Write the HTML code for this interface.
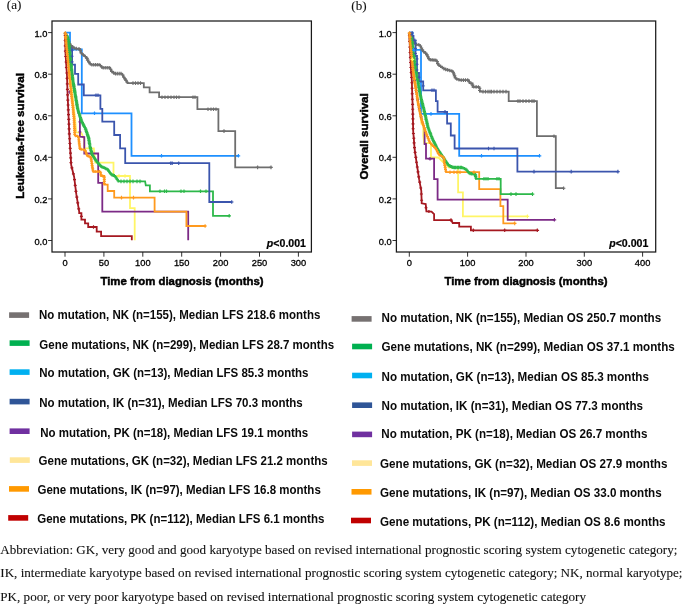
<!DOCTYPE html>
<html lang="en">
<head>
<meta charset="utf-8">
<title>Survival curves</title>
<style>
html,body{margin:0;padding:0;background:#fff;}
body{width:685px;height:604px;overflow:hidden;position:relative;}
svg{position:absolute;left:0;top:0;display:block;}
.tk{font-family:"Liberation Sans",Arial,sans-serif;font-size:9.3px;fill:#000;stroke:#000;stroke-width:0.3px;}
.ax{font-family:"Liberation Sans",Arial,sans-serif;font-size:11.4px;font-weight:bold;fill:#000;stroke:#000;stroke-width:0.45px;}
.pv{font-family:"Liberation Sans",Arial,sans-serif;font-size:10.6px;font-weight:bold;fill:#000;stroke:#000;stroke-width:0.2px;}
.lg{font-family:"Liberation Sans",Arial,sans-serif;font-weight:bold;fill:#0a0a0a;}
.sf{font-family:"Liberation Serif","Times New Roman",serif;font-size:13.1px;fill:#111;stroke:#111;stroke-width:0.1px;}
</style>
</head>
<body>
<svg width="685" height="604" viewBox="0 0 685 604">
<rect width="685" height="604" fill="#fff"/>
<text x="6.8" y="9.4" class="sf">(a)</text>
<text x="351.3" y="9.5" class="sf">(b)</text>
<g id="chart-a">
<rect x="52" y="21" width="259.4" height="231" fill="none" stroke="#1a1a1a" stroke-width="1.25"/>
<path d="M48.1 32.6H52M48.1 74.2H52M48.1 115.8H52M48.1 157.3H52M48.1 198.9H52M48.1 240.5H52M65.0 252V256.7M103.9 252V256.7M142.8 252V256.7M181.7 252V256.7M220.6 252V256.7M259.5 252V256.7M298.4 252V256.7" stroke="#1a1a1a" stroke-width="0.9" fill="none"/>
<text transform="translate(47.3 36.7) scale(1 1.05)" text-anchor="end" class="tk">1.0</text>
<text transform="translate(47.3 78.3) scale(1 1.05)" text-anchor="end" class="tk">0.8</text>
<text transform="translate(47.3 119.9) scale(1 1.05)" text-anchor="end" class="tk">0.6</text>
<text transform="translate(47.3 161.4) scale(1 1.05)" text-anchor="end" class="tk">0.4</text>
<text transform="translate(47.3 203.0) scale(1 1.05)" text-anchor="end" class="tk">0.2</text>
<text transform="translate(47.3 244.6) scale(1 1.05)" text-anchor="end" class="tk">0.0</text>
<text transform="translate(65.0 266.2) scale(1 1.03)" text-anchor="middle" class="tk">0</text>
<text transform="translate(103.9 266.2) scale(1 1.03)" text-anchor="middle" class="tk">50</text>
<text transform="translate(142.8 266.2) scale(1 1.03)" text-anchor="middle" class="tk">100</text>
<text transform="translate(181.7 266.2) scale(1 1.03)" text-anchor="middle" class="tk">150</text>
<text transform="translate(220.6 266.2) scale(1 1.03)" text-anchor="middle" class="tk">200</text>
<text transform="translate(259.5 266.2) scale(1 1.03)" text-anchor="middle" class="tk">250</text>
<text transform="translate(298.4 266.2) scale(1 1.03)" text-anchor="middle" class="tk">300</text>
<text x="182.0" y="285.2" text-anchor="middle" class="ax">Time from diagnosis (months)</text>
<text transform="translate(24.4 135.9) rotate(-90)" text-anchor="middle" class="ax" style="font-size:11.6px">Leukemia-free survival</text>
<text x="306.0" y="247.2" text-anchor="end" class="pv"><tspan font-style="italic">p</tspan>&lt;0.001</text>
<path d="M65 32.6 L67 45 L69 60 L71 80 L73 100 L74.8 116.3 L76.3 132.3 L81.4 133 L84.3 139.6 L84.3 148.4 L93.8 148.4 L95.3 162.7 L113.5 162.7 L113.5 176 L130 176 L130 208.1 L134.7 208.1 L134.7 240.2" fill="none" stroke="#fff566" stroke-width="1.8" stroke-linejoin="miter"/>
<path d="M65 32.6 L66.2 37 L68.5 42 L69.9 53.8 L71.4 68.4 L72.8 80.1 L75 93 L77.7 109 L79.9 117 L79.9 136.7 L84.3 137 L84.3 153.5 L98.2 153.5 L98.2 182.8 L102.3 182.8 L102.3 211.7 L188.2 211.7 L188.2 240.2" fill="none" stroke="#7c2a86" stroke-width="1.8" stroke-linejoin="miter"/>
<path d="M65 32.6 L65.5 53.8 L67 75.7 L67.7 97.6 L68.2 107.5 L69 126.5 L69.7 141.1 L71.2 165 L74.1 176.7 L76.3 194.2 L79.2 211.7 L79.2 213.2 L81.4 213.2 L81.4 219.7 L85 219.7 L85 223.4 L88.2 223.4 L88.2 227 L96.7 227 L96.7 231.7 L101.1 231.7 L101.1 236.1 L131.8 236.1 L131.8 240.2" fill="none" stroke="#a51820" stroke-width="1.8" stroke-linejoin="miter"/>
<path d="M65 32.6 L65.5 33.4 L66.3 45 L67.7 58.2 L69.2 74.2 L71.3 93.5 L72.6 104.6 L74.1 119.2 L74.8 135.3 L78.5 136.7 L79.9 149.1 L85 149.9 L87.2 155.7 L90.9 157.2 L93.1 171.6 L100.4 171.6 L101.1 176 L104.3 176 L104.3 184.7 L107.7 184.7 L107.7 191 L114.2 191 L114.2 197.6 L154.6 197.6 L154.6 211.7 L186.4 211.7 L186.4 226 L205.7 226" fill="none" stroke="#ff9a1e" stroke-width="1.8" stroke-linejoin="miter"/>
<path d="M65 32.6 L70 32.6 L70 49.5 L81.8 49.5 L81.8 113.3 L131.5 113.3 L131.5 155.8 L239 155.8" fill="none" stroke="#1e90ff" stroke-width="1.8" stroke-linejoin="miter"/>
<path d="M65 32.6 L66.5 36 L68 41 L70 44.5 L72 46.5 L75 48.5 L80.3 49 L80.3 52 L82.3 54 L84 55.5 L86.7 57.5 L88 61 L91 64.7 L100 64.8 L102.2 67.7 L110.2 67.7 L110.9 70.7 L114.6 73.6 L121.9 73.6 L123.4 76.5 L125.5 79.5 L127.7 83.1 L143.8 83.1 L143.8 87.4 L149.6 87.4 L149.6 92.3 L159.1 92.3 L159.1 97.2 L197.4 97.2 L197.4 109.2 L218.4 109.2 L218.4 131.1 L235.2 131.1 L235.2 167.4 L271.6 167.4" fill="none" stroke="#6e6e6e" stroke-width="1.8" stroke-linejoin="miter"/>
<path d="M67.2 35.5 L68.6 42 L69.9 53.8 L71.4 68.4 L72.8 80.1 L75 93 L77.7 109 L81.4 120.7 L85.8 129.4 L88.7 138.2 L90.1 146.9 L92.3 155 L96.7 161.5 L101.1 166.5 L107.7 169.4 L111.3 174.5 L115 176 L118.6 181.4 L145.1 181.4 L145.8 185.4 L149.9 185.4 L149.9 191.3 L213 191.3 L213 215.8 L229.8 215.8" fill="none" stroke="#2db84a" stroke-width="1.8" stroke-linejoin="miter"/>
<path d="M68.6 44 L68.6 47.6 L72.1 47.6 L72.1 64.7 L75 64.7 L75 73.8 L78.2 73.8 L78.2 84.5 L83.8 84.5 L83.8 95.3 L100.4 95.3 L100.4 108.8 L102.3 108.8 L102.3 121.7 L114.2 121.7 L114.2 135 L120.1 135 L120.1 148.4 L125.2 148.4 L125.2 163.2 L209.3 163.2 L209.3 202 L232.3 202" fill="none" stroke="#3b55ad" stroke-width="1.8" stroke-linejoin="miter"/>
<path d="M162.0 95.4v3.6M165.0 95.4v3.6M168.0 95.4v3.6M171.0 95.4v3.6M174.0 95.4v3.6M176.5 95.4v3.6M179.0 95.4v3.6M193.0 95.4v3.6M195.0 95.4v3.6M208.0 107.4v3.6M211.0 107.4v3.6M213.5 107.4v3.6M216.0 107.4v3.6M224.0 129.3v3.6M257.6 165.6v3.6M133.0 81.3v3.6M135.5 81.3v3.6M138.0 81.3v3.6M140.5 81.3v3.6M271.0 165.6v3.6M160.2 97.2h3.6M163.2 97.2h3.6M166.2 97.2h3.6M169.2 97.2h3.6M172.2 97.2h3.6M174.7 97.2h3.6M177.2 97.2h3.6M191.2 97.2h3.6M193.2 97.2h3.6M206.2 109.2h3.6M209.2 109.2h3.6M211.7 109.2h3.6M214.2 109.2h3.6M222.2 131.1h3.6M255.8 167.4h3.6M131.2 83.1h3.6M133.7 83.1h3.6M136.2 83.1h3.6M138.7 83.1h3.6M269.2 167.4h3.6M65.4 31.7v3.6M66.1 33.4v3.6M66.9 35.5v3.6M67.6 38.0v3.6M68.5 40.1v3.6M69.5 41.8v3.6M71.0 43.7v3.6M72.8 45.2v3.6M74.2 46.2v3.6M76.3 46.8v3.6M79.0 47.1v3.6M80.3 48.7v3.6M81.3 51.2v3.6M83.2 53.0v3.6M85.3 54.7v3.6M87.0 56.6v3.6M87.7 58.3v3.6M88.8 60.1v3.6M90.2 62.0v3.6M91.9 62.9v3.6M93.7 62.9v3.6M95.5 63.0v3.6M97.3 63.0v3.6M99.1 63.0v3.6M100.5 63.7v3.6M101.7 65.2v3.6M103.2 65.9v3.6M105.2 65.9v3.6M107.2 65.9v3.6M109.2 65.9v3.6M110.6 67.4v3.6M111.8 69.6v3.6M113.7 71.1v3.6M115.5 71.8v3.6M117.3 71.8v3.6M119.2 71.8v3.6M121.0 71.8v3.6M122.7 73.2v3.6M123.9 75.5v3.6M125.0 77.0v3.6M126.0 78.6v3.6M127.2 80.4v3.6M63.6 33.5h3.6M64.3 35.1h3.6M65.1 37.2h3.6M65.8 39.8h3.6M66.7 41.9h3.6M67.7 43.6h3.6M69.2 45.5h3.6M71.0 47.0h3.6M72.5 48.0h3.6M74.5 48.6h3.6M77.2 48.9h3.6M78.5 50.5h3.6M79.5 53.0h3.6M81.4 54.8h3.6M83.5 56.5h3.6M85.2 58.4h3.6M85.9 60.1h3.6M87.0 61.9h3.6M88.5 63.8h3.6M90.1 64.7h3.6M91.9 64.7h3.6M93.7 64.8h3.6M95.5 64.8h3.6M97.3 64.8h3.6M98.8 65.5h3.6M99.9 67.0h3.6M101.4 67.7h3.6M103.4 67.7h3.6M105.4 67.7h3.6M107.4 67.7h3.6M108.8 69.2h3.6M110.0 71.4h3.6M111.9 72.9h3.6M113.7 73.6h3.6M115.5 73.6h3.6M117.4 73.6h3.6M119.2 73.6h3.6M120.9 75.0h3.6M122.1 77.2h3.6M123.2 78.8h3.6M124.2 80.4h3.6M125.4 82.2h3.6" fill="none" stroke="#6e6e6e" stroke-width="1.15"/>
<path d="M69.6 90.2v3.6M67.8 92.0h3.6M69.2 46.5v2.8M70.7 59.7v2.8M72.1 72.8v2.8M73.9 85.1v2.8M75.7 95.6v2.8M77.0 103.6v2.8M78.8 111.6v2.8M79.9 120.5v2.8M79.9 130.4v2.8M67.8 47.9h2.8M69.2 61.1h2.8M70.7 74.2h2.8M72.5 86.5h2.8M74.3 97.0h2.8M75.6 105.0h2.8M77.4 113.0h2.8M78.5 121.9h2.8M78.5 131.8h2.8" fill="none" stroke="#7c2a86" stroke-width="1.15"/>
<path d="M160.0 189.5v3.6M164.5 189.5v3.6M166.5 189.5v3.6M181.0 189.5v3.6M184.0 189.5v3.6M200.5 189.5v3.6M206.0 189.5v3.6M121.0 179.6v3.6M124.0 179.6v3.6M127.0 179.6v3.6M130.0 179.6v3.6M133.0 179.6v3.6M137.0 179.6v3.6M140.0 179.6v3.6M229.2 214.0v3.6M158.2 191.3h3.6M162.7 191.3h3.6M164.7 191.3h3.6M179.2 191.3h3.6M182.2 191.3h3.6M198.7 191.3h3.6M204.2 191.3h3.6M119.2 181.4h3.6M122.2 181.4h3.6M125.2 181.4h3.6M128.2 181.4h3.6M131.2 181.4h3.6M135.2 181.4h3.6M138.2 181.4h3.6M227.4 215.8h3.6M67.3 34.4v3.4M67.6 35.8v3.4M67.9 37.0v3.4M68.2 38.3v3.4M68.5 39.6v3.4M68.7 41.0v3.4M68.8 42.3v3.4M69.0 43.6v3.4M69.1 44.9v3.4M69.2 46.2v3.4M69.4 47.5v3.4M69.5 48.8v3.4M69.7 50.1v3.4M69.8 51.4v3.4M70.0 52.8v3.4M70.1 54.1v3.4M70.2 55.4v3.4M70.4 56.7v3.4M70.5 58.1v3.4M70.7 59.4v3.4M70.8 60.7v3.4M70.9 62.1v3.4M71.1 63.4v3.4M71.2 64.7v3.4M71.3 66.0v3.4M71.5 67.4v3.4M71.6 68.7v3.4M71.8 70.0v3.4M71.9 71.2v3.4M72.1 72.5v3.4M72.3 73.8v3.4M72.4 75.1v3.4M72.6 76.4v3.4M72.7 77.7v3.4M72.9 79.0v3.4M73.1 80.3v3.4M73.3 81.6v3.4M73.6 82.9v3.4M73.8 84.2v3.4M74.0 85.5v3.4M74.2 86.8v3.4M74.5 88.1v3.4M74.7 89.4v3.4M74.9 90.7v3.4M75.1 92.0v3.4M75.3 93.3v3.4M75.6 94.6v3.4M75.8 96.0v3.4M76.0 97.3v3.4M76.2 98.6v3.4M76.5 100.0v3.4M76.7 101.3v3.4M76.9 102.6v3.4M77.1 104.0v3.4M77.4 105.3v3.4M77.6 106.6v3.4M77.9 108.0v3.4M78.3 109.2v3.4M78.7 110.5v3.4M79.1 111.8v3.4M79.6 113.1v3.4M80.0 114.5v3.4M80.4 115.8v3.4M80.8 117.0v3.4M81.2 118.3v3.4M81.7 119.6v3.4M82.3 120.9v3.4M83.0 122.1v3.4M83.6 123.4v3.4M84.2 124.6v3.4M84.9 125.8v3.4M85.5 127.1v3.4M86.0 128.3v3.4M86.4 129.6v3.4M86.8 130.8v3.4M87.2 132.1v3.4M87.7 133.4v3.4M88.1 134.6v3.4M88.5 135.9v3.4M88.8 137.2v3.4M89.0 138.7v3.4M89.3 140.1v3.4M89.5 141.6v3.4M89.8 143.0v3.4M90.0 144.5v3.4M90.3 145.9v3.4M90.6 147.2v3.4M91.0 148.6v3.4M91.4 149.9v3.4M91.8 151.3v3.4M92.1 152.6v3.4M92.7 153.8v3.4M93.4 154.9v3.4M94.1 156.0v3.4M94.9 157.1v3.4M95.6 158.2v3.4M96.3 159.3v3.4M97.1 160.3v3.4M98.0 161.3v3.4M98.9 162.3v3.4M99.8 163.3v3.4M100.7 164.3v3.4M101.8 165.1v3.4M103.1 165.7v3.4M104.4 166.2v3.4M105.7 166.8v3.4M107.0 167.4v3.4M108.2 168.3v3.4M109.0 169.6v3.4M110.0 170.9v3.4M110.8 172.2v3.4M111.9 173.1v3.4M113.2 173.6v3.4M114.4 174.1v3.4M115.5 175.0v3.4M116.3 176.3v3.4M117.2 177.7v3.4M118.1 179.0v3.4M65.6 36.1h3.4M65.9 37.5h3.4M66.2 38.8h3.4M66.5 40.0h3.4M66.8 41.4h3.4M67.0 42.7h3.4M67.1 44.0h3.4M67.3 45.3h3.4M67.4 46.6h3.4M67.5 47.9h3.4M67.7 49.2h3.4M67.8 50.5h3.4M68.0 51.8h3.4M68.1 53.1h3.4M68.3 54.5h3.4M68.4 55.8h3.4M68.5 57.1h3.4M68.7 58.4h3.4M68.8 59.8h3.4M69.0 61.1h3.4M69.1 62.4h3.4M69.2 63.8h3.4M69.4 65.1h3.4M69.5 66.4h3.4M69.6 67.7h3.4M69.8 69.1h3.4M69.9 70.4h3.4M70.1 71.7h3.4M70.2 73.0h3.4M70.4 74.2h3.4M70.6 75.5h3.4M70.7 76.8h3.4M70.9 78.1h3.4M71.0 79.4h3.4M71.2 80.7h3.4M71.4 82.0h3.4M71.6 83.3h3.4M71.9 84.6h3.4M72.1 85.9h3.4M72.3 87.2h3.4M72.5 88.5h3.4M72.8 89.8h3.4M73.0 91.1h3.4M73.2 92.4h3.4M73.4 93.7h3.4M73.6 95.0h3.4M73.9 96.3h3.4M74.1 97.7h3.4M74.3 99.0h3.4M74.5 100.3h3.4M74.8 101.7h3.4M75.0 103.0h3.4M75.2 104.3h3.4M75.4 105.7h3.4M75.7 107.0h3.4M75.9 108.3h3.4M76.2 109.7h3.4M76.6 111.0h3.4M77.0 112.2h3.4M77.4 113.5h3.4M77.9 114.8h3.4M78.3 116.2h3.4M78.7 117.5h3.4M79.1 118.8h3.4M79.5 120.0h3.4M80.0 121.3h3.4M80.6 122.6h3.4M81.3 123.8h3.4M81.9 125.1h3.4M82.5 126.3h3.4M83.2 127.5h3.4M83.8 128.8h3.4M84.3 130.0h3.4M84.7 131.3h3.4M85.1 132.5h3.4M85.5 133.8h3.4M86.0 135.1h3.4M86.4 136.3h3.4M86.8 137.6h3.4M87.1 138.9h3.4M87.3 140.4h3.4M87.6 141.8h3.4M87.8 143.3h3.4M88.0 144.7h3.4M88.3 146.2h3.4M88.6 147.6h3.4M88.9 148.9h3.4M89.3 150.3h3.4M89.7 151.6h3.4M90.0 153.0h3.4M90.4 154.3h3.4M91.0 155.5h3.4M91.7 156.6h3.4M92.4 157.7h3.4M93.2 158.8h3.4M93.9 159.9h3.4M94.6 161.0h3.4M95.4 162.0h3.4M96.3 163.0h3.4M97.2 164.0h3.4M98.1 165.0h3.4M99.0 166.0h3.4M100.1 166.8h3.4M101.4 167.4h3.4M102.7 167.9h3.4M104.0 168.5h3.4M105.3 169.1h3.4M106.5 170.0h3.4M107.3 171.3h3.4M108.2 172.6h3.4M109.1 173.9h3.4M110.2 174.8h3.4M111.5 175.2h3.4M112.7 175.8h3.4M113.8 176.7h3.4M114.6 178.0h3.4M115.5 179.4h3.4M116.4 180.7h3.4" fill="none" stroke="#2db84a" stroke-width="1.15"/>
<path d="M94.5 111.5v3.6M161.5 154.0v3.6M238.4 154.0v3.6M92.7 113.3h3.6M159.7 155.8h3.6M236.6 155.8h3.6" fill="none" stroke="#1e90ff" stroke-width="1.15"/>
<path d="M96.0 93.5v3.6M98.0 93.5v3.6M170.7 161.4v3.6M172.2 161.4v3.6M178.7 161.4v3.6M231.7 200.2v3.6M94.2 95.3h3.6M96.2 95.3h3.6M168.9 163.2h3.6M170.4 163.2h3.6M176.9 163.2h3.6M229.9 202.0h3.6M72.1 49.1v2.8M72.1 54.8v2.8M72.1 60.5v2.8M70.7 50.5h2.8M70.7 56.2h2.8M70.7 61.9h2.8" fill="none" stroke="#3b55ad" stroke-width="1.15"/>
<path d="M93.5 225.2v3.6M91.7 227.0h3.6M65.1 33.8v3M65.2 39.0v3M65.3 44.3v3M65.4 49.6v3M65.7 55.0v3M66.1 60.5v3M66.4 66.0v3M66.8 71.5v3M67.1 76.9v3M67.3 82.4v3M67.4 87.9v3M67.6 93.4v3M67.8 98.6v3M68.1 103.5v3M68.3 108.4v3M68.5 113.1v3M68.7 117.9v3M68.9 122.6v3M69.1 127.4v3M69.3 132.3v3M69.6 137.2v3M69.9 142.0v3M70.2 146.8v3M70.5 151.6v3M70.8 156.3v3M71.0 161.1v3M71.9 166.4v3M73.4 172.3v3M74.5 178.1v3M75.2 183.9v3M75.9 189.8v3M76.8 195.6v3M77.8 201.4v3M78.7 207.3v3M81.4 214.9v3M63.6 35.2h3M63.7 40.5h3M63.8 45.8h3M63.9 51.1h3M64.2 56.5h3M64.6 62.0h3M64.9 67.5h3M65.3 73.0h3M65.6 78.4h3M65.8 83.9h3M65.9 89.4h3M66.1 94.9h3M66.3 100.1h3M66.6 105.0h3M66.8 109.9h3M67.0 114.6h3M67.2 119.4h3M67.4 124.1h3M67.6 128.9h3M67.8 133.8h3M68.1 138.7h3M68.4 143.5h3M68.7 148.3h3M69.0 153.1h3M69.2 157.8h3M69.5 162.6h3M70.4 167.9h3M71.9 173.8h3M73.0 179.6h3M73.7 185.4h3M74.4 191.3h3M75.3 197.1h3M76.2 202.9h3M77.2 208.8h3M79.9 216.4h3" fill="none" stroke="#a51820" stroke-width="1.15"/>
<path d="M121.5 195.8v3.6M133.5 195.8v3.6M65.3 31.2v3.6M65.7 35.0v3.6M205.1 224.2v3.6M119.7 197.6h3.6M131.7 197.6h3.6M63.5 33.0h3.6M63.9 36.8h3.6M203.3 226.0h3.6M65.6 32.9v3M65.7 34.8v3M65.8 36.7v3M66.0 38.7v3M66.1 40.6v3M66.2 42.5v3M66.4 44.4v3M66.6 46.3v3M66.8 48.2v3M67.0 50.1v3M67.2 52.0v3M67.4 53.9v3M67.6 55.8v3M67.8 57.7v3M68.0 59.7v3M68.2 61.7v3M68.4 63.7v3M68.5 65.7v3M68.7 67.7v3M68.9 69.7v3M69.1 71.7v3M69.3 73.7v3M69.5 75.6v3M69.7 77.5v3M69.9 79.5v3M70.1 81.4v3M70.4 83.3v3M70.6 85.2v3M70.8 87.2v3M71.0 89.1v3M71.2 91.0v3M71.4 92.9v3M71.6 94.8v3M71.8 96.6v3M72.1 98.5v3M72.3 100.3v3M72.5 102.2v3M72.7 104.0v3M72.9 105.8v3M73.1 107.7v3M73.3 109.5v3M73.4 111.3v3M73.6 113.1v3M73.8 115.0v3M74.0 116.8v3M74.1 118.7v3M74.2 120.7v3M74.3 122.7v3M74.4 124.7v3M74.5 126.8v3M74.6 128.8v3M74.7 130.8v3M74.8 132.8v3M75.7 134.2v3M77.6 134.8v3M78.6 136.2v3M78.8 138.3v3M79.1 140.4v3M79.3 142.4v3M79.6 144.5v3M79.8 146.6v3M81.2 147.8v3M83.7 148.2v3M85.4 149.4v3M86.1 151.3v3M86.8 153.2v3M88.1 154.6v3M90.0 155.3v3M91.0 156.6v3M91.3 158.4v3M91.6 160.2v3M91.9 162.0v3M92.1 163.8v3M92.4 165.6v3M92.7 167.4v3M93.0 169.2v3M94.0 170.1v3M95.8 170.1v3M97.7 170.1v3M99.5 170.1v3M100.6 171.2v3M100.9 173.4v3M102.7 174.5v3M104.3 175.6v3M104.3 177.8v3M104.3 179.9v3M104.3 182.1v3M64.1 34.4h3M64.2 36.3h3M64.3 38.2h3M64.5 40.2h3M64.6 42.1h3M64.7 44.0h3M64.9 45.9h3M65.1 47.8h3M65.3 49.7h3M65.5 51.6h3M65.7 53.5h3M65.9 55.4h3M66.1 57.3h3M66.3 59.2h3M66.5 61.2h3M66.7 63.2h3M66.9 65.2h3M67.0 67.2h3M67.2 69.2h3M67.4 71.2h3M67.6 73.2h3M67.8 75.2h3M68.0 77.1h3M68.2 79.0h3M68.4 81.0h3M68.6 82.9h3M68.9 84.8h3M69.1 86.7h3M69.3 88.7h3M69.5 90.6h3M69.7 92.5h3M69.9 94.4h3M70.1 96.3h3M70.3 98.1h3M70.6 100.0h3M70.8 101.8h3M71.0 103.7h3M71.2 105.5h3M71.4 107.3h3M71.6 109.2h3M71.8 111.0h3M71.9 112.8h3M72.1 114.6h3M72.3 116.5h3M72.5 118.3h3M72.6 120.2h3M72.7 122.2h3M72.8 124.2h3M72.9 126.2h3M73.0 128.3h3M73.1 130.3h3M73.2 132.3h3M73.3 134.3h3M74.2 135.7h3M76.1 136.3h3M77.1 137.7h3M77.3 139.8h3M77.6 141.9h3M77.8 143.9h3M78.1 146.0h3M78.3 148.1h3M79.7 149.3h3M82.2 149.7h3M83.9 150.9h3M84.6 152.8h3M85.3 154.7h3M86.6 156.1h3M88.5 156.8h3M89.5 158.1h3M89.8 159.9h3M90.1 161.7h3M90.4 163.5h3M90.6 165.3h3M90.9 167.1h3M91.2 168.9h3M91.5 170.7h3M92.5 171.6h3M94.3 171.6h3M96.2 171.6h3M98.0 171.6h3M99.1 172.7h3M99.4 174.9h3M101.2 176.0h3M102.8 177.1h3M102.8 179.3h3M102.8 181.4h3M102.8 183.6h3" fill="none" stroke="#ff9a1e" stroke-width="1.15"/>
<path d="M119.0 174.2v3.6M125.0 174.2v3.6M117.2 176.0h3.6M123.2 176.0h3.6" fill="none" stroke="#fff566" stroke-width="1.15"/>
</g>
<g id="chart-b">
<rect x="396.4" y="21" width="259.30000000000007" height="231" fill="none" stroke="#1a1a1a" stroke-width="1.25"/>
<path d="M392.5 32.6H396.4M392.5 74.2H396.4M392.5 115.8H396.4M392.5 157.3H396.4M392.5 198.9H396.4M392.5 240.5H396.4M409.3 252V256.7M467.6 252V256.7M526.0 252V256.7M584.3 252V256.7M642.6 252V256.7" stroke="#1a1a1a" stroke-width="0.9" fill="none"/>
<text transform="translate(391.7 36.7) scale(1 1.05)" text-anchor="end" class="tk">1.0</text>
<text transform="translate(391.7 78.3) scale(1 1.05)" text-anchor="end" class="tk">0.8</text>
<text transform="translate(391.7 119.9) scale(1 1.05)" text-anchor="end" class="tk">0.6</text>
<text transform="translate(391.7 161.4) scale(1 1.05)" text-anchor="end" class="tk">0.4</text>
<text transform="translate(391.7 203.0) scale(1 1.05)" text-anchor="end" class="tk">0.2</text>
<text transform="translate(391.7 244.6) scale(1 1.05)" text-anchor="end" class="tk">0.0</text>
<text transform="translate(409.3 266.2) scale(1 1.03)" text-anchor="middle" class="tk">0</text>
<text transform="translate(467.6 266.2) scale(1 1.03)" text-anchor="middle" class="tk">100</text>
<text transform="translate(526.0 266.2) scale(1 1.03)" text-anchor="middle" class="tk">200</text>
<text transform="translate(584.3 266.2) scale(1 1.03)" text-anchor="middle" class="tk">300</text>
<text transform="translate(642.6 266.2) scale(1 1.03)" text-anchor="middle" class="tk">400</text>
<text x="526.0" y="285.2" text-anchor="middle" class="ax">Time from diagnosis (months)</text>
<text transform="translate(368.0 136.4) rotate(-90)" text-anchor="middle" class="ax" style="font-size:11.6px">Overall survival</text>
<text x="648.4" y="247.2" text-anchor="end" class="pv"><tspan font-style="italic">p</tspan>&lt;0.001</text>
<path d="M409.3 32.6 L411 45 L413 60 L415 80 L418 100 L421.5 124 L423.3 125.5 L423.3 136 L424.2 143.1 L431 143.1 L431 157.5 L438.5 157.5 L441 160 L449 167.5 L458.1 167.5 L458.1 192.3 L462.9 192.3 L462.9 216.4 L528 216.4" fill="none" stroke="#fff566" stroke-width="1.8" stroke-linejoin="miter"/>
<path d="M409.3 32.6 L410.5 45 L412 60 L413.5 75 L415.4 85.8 L418.4 104.8 L422 120.9 L424.6 129 L424.6 144 L426 144 L426 158.6 L434.1 158.6 L434.1 179.2 L437.6 179.2 L437.6 199.6 L507.7 199.6 L507.7 219.8 L555 219.8" fill="none" stroke="#7c2a86" stroke-width="1.8" stroke-linejoin="miter"/>
<path d="M409.3 32.6 L410 50 L411 70 L411.8 80 L412.5 101.9 L413.2 131.1 L414.7 150 L416.9 164.6 L419.1 179.2 L421.3 190.9 L421.7 203.3 L425.7 204 L426.4 211.3 L431.5 211.6 L434.1 214.2 L434.1 220.1 L451.2 220.1 L452.7 223 L459.2 223 L459.2 226.6 L470.9 226.6 L470.9 230.3 L537.9 230.3" fill="none" stroke="#a51820" stroke-width="1.8" stroke-linejoin="miter"/>
<path d="M409.3 32.6 L410.5 45 L412 60 L413.5 75 L415.4 85.8 L418.4 104.8 L422 120.9 L426.4 134 L430 142.8 L435.9 148.6 L438.8 154.5 L443.9 157.4 L444.6 164.6 L446.1 172.2 L479.2 172.2 L479.2 189.1 L500.4 189.1 L500.4 206.2 L503.3 206.2 L503.3 223.4 L515.3 223.4" fill="none" stroke="#ff9a1e" stroke-width="1.8" stroke-linejoin="miter"/>
<path d="M409.3 32.6 L412.6 32.6 L412.6 49.8 L421 49.8 L421 113.9 L459.2 113.9 L459.2 155.8 L540.1 155.8" fill="none" stroke="#1e90ff" stroke-width="1.8" stroke-linejoin="miter"/>
<path d="M409.3 32.6 L411 37 L413 41 L415.5 44.3 L419.9 45 L422.8 50.9 L426.5 53.8 L429.4 59.6 L436.7 60.4 L438.2 64.7 L444.7 69.1 L452.8 71.3 L455.7 78.6 L460.1 80.1 L468.8 80.1 L469.6 83.2 L472.6 83.4 L472.6 86.8 L479.5 87.1 L479.9 91.6 L508.7 91.6 L508.7 101.1 L536.9 101.1 L536.9 136.2 L555.8 136.2 L555.8 188.2 L564.2 188.2" fill="none" stroke="#6e6e6e" stroke-width="1.8" stroke-linejoin="miter"/>
<path d="M411.2 36.5 L411.8 39 L413 50 L415 65 L417.6 80 L420.5 96 L424.2 110.7 L427.8 126.7 L432.2 138.4 L437.3 148.6 L443.2 157.4 L448.6 165.4 L453.4 167.5 L462.2 167.5 L466.5 169.7 L469.5 173.4 L475.3 174.1 L476 178.8 L500.7 178.8 L500.7 194.1 L533.1 194.1" fill="none" stroke="#2db84a" stroke-width="1.8" stroke-linejoin="miter"/>
<path d="M409.3 32.6 L411.9 32.6 L411.9 36 L413.5 36 L413.5 40.7 L415.5 40.7 L415.5 56 L417 56 L417 72.8 L419 72.8 L419 81.5 L423.2 81.5 L423.2 90.3 L435.9 90.3 L435.9 101.2 L437.6 101.2 L437.6 111.8 L447.1 111.8 L447.1 123.5 L450.8 123.5 L450.8 135.5 L454.6 135.5 L454.6 148.5 L517.4 148.5 L517.4 171.6 L618.5 171.6" fill="none" stroke="#3b55ad" stroke-width="1.8" stroke-linejoin="miter"/>
<path d="M483.0 89.8v3.6M485.5 89.8v3.6M488.0 89.8v3.6M490.0 89.8v3.6M491.5 89.8v3.6M494.0 89.8v3.6M497.0 89.8v3.6M500.0 89.8v3.6M503.0 89.8v3.6M506.0 89.8v3.6M518.0 99.3v3.6M520.0 99.3v3.6M523.0 99.3v3.6M526.0 99.3v3.6M529.0 99.3v3.6M532.0 99.3v3.6M534.0 99.3v3.6M554.0 134.4v3.6M563.6 186.4v3.6M481.2 91.6h3.6M483.7 91.6h3.6M486.2 91.6h3.6M488.2 91.6h3.6M489.7 91.6h3.6M492.2 91.6h3.6M495.2 91.6h3.6M498.2 91.6h3.6M501.2 91.6h3.6M504.2 91.6h3.6M516.2 101.1h3.6M518.2 101.1h3.6M521.2 101.1h3.6M524.2 101.1h3.6M527.2 101.1h3.6M530.2 101.1h3.6M532.2 101.1h3.6M552.2 136.2h3.6M561.8 188.2h3.6M409.7 31.9v3.6M410.6 34.1v3.6M411.5 36.2v3.6M412.5 38.2v3.6M413.6 40.0v3.6M414.9 41.7v3.6M416.6 42.7v3.6M418.8 43.0v3.6M420.4 44.2v3.6M421.4 46.2v3.6M422.3 48.1v3.6M423.7 49.8v3.6M425.6 51.3v3.6M427.0 53.0v3.6M427.9 54.9v3.6M428.9 56.8v3.6M430.3 57.9v3.6M432.1 58.1v3.6M434.0 58.3v3.6M435.8 58.5v3.6M437.1 59.7v3.6M437.8 61.8v3.6M439.0 63.5v3.6M440.6 64.5v3.6M442.3 65.7v3.6M443.9 66.8v3.6M445.7 67.6v3.6M447.7 68.1v3.6M449.8 68.7v3.6M451.8 69.2v3.6M453.2 70.4v3.6M453.9 72.2v3.6M454.6 74.1v3.6M455.3 75.9v3.6M456.8 77.2v3.6M459.0 77.9v3.6M461.2 78.3v3.6M463.4 78.3v3.6M465.5 78.3v3.6M467.7 78.3v3.6M469.2 79.9v3.6M471.1 81.5v3.6M472.6 83.3v3.6M473.8 85.0v3.6M476.1 85.1v3.6M478.4 85.2v3.6M479.6 86.4v3.6M479.8 88.7v3.6M407.9 33.7h3.6M408.8 35.9h3.6M409.7 38.0h3.6M410.7 40.0h3.6M411.8 41.8h3.6M413.1 43.5h3.6M414.8 44.5h3.6M417.0 44.8h3.6M418.6 46.0h3.6M419.6 48.0h3.6M420.5 49.9h3.6M421.9 51.6h3.6M423.8 53.1h3.6M425.2 54.8h3.6M426.1 56.7h3.6M427.1 58.6h3.6M428.5 59.7h3.6M430.3 59.9h3.6M432.2 60.1h3.6M434.0 60.3h3.6M435.3 61.5h3.6M436.0 63.6h3.6M437.2 65.2h3.6M438.8 66.3h3.6M440.5 67.5h3.6M442.1 68.5h3.6M443.9 69.4h3.6M445.9 69.9h3.6M448.0 70.5h3.6M450.0 71.0h3.6M451.4 72.2h3.6M452.1 74.0h3.6M452.8 75.9h3.6M453.5 77.7h3.6M455.0 79.0h3.6M457.2 79.7h3.6M459.4 80.1h3.6M461.6 80.1h3.6M463.7 80.1h3.6M465.9 80.1h3.6M467.4 81.7h3.6M469.3 83.3h3.6M470.8 85.1h3.6M471.9 86.8h3.6M474.2 86.9h3.6M476.6 87.0h3.6M477.8 88.2h3.6M478.0 90.5h3.6" fill="none" stroke="#6e6e6e" stroke-width="1.15"/>
<path d="M430.0 157.0v3.6M554.4 218.0v3.6M428.2 158.8h3.6M552.6 219.8h3.6M409.9 37.4v2.8M411.2 51.1v2.8M412.8 66.1v2.8M414.4 79.0v2.8M416.1 89.1v2.8M417.6 98.6v2.8M419.3 107.4v2.8M421.1 115.5v2.8M408.5 38.8h2.8M409.9 52.5h2.8M411.4 67.5h2.8M413.1 80.4h2.8M414.8 90.5h2.8M416.2 100.0h2.8M417.9 108.8h2.8M419.7 116.9h2.8" fill="none" stroke="#7c2a86" stroke-width="1.15"/>
<path d="M484.0 177.0v3.6M486.0 177.0v3.6M488.0 177.0v3.6M497.0 177.0v3.6M499.0 177.0v3.6M511.0 192.3v3.6M516.0 192.3v3.6M455.0 165.7v3.6M458.0 165.7v3.6M461.0 165.7v3.6M532.5 192.3v3.6M482.2 178.8h3.6M484.2 178.8h3.6M486.2 178.8h3.6M495.2 178.8h3.6M497.2 178.8h3.6M509.2 194.1h3.6M514.2 194.1h3.6M453.2 167.5h3.6M456.2 167.5h3.6M459.2 167.5h3.6M530.7 194.1h3.6M411.5 36.0v3.4M411.9 38.0v3.4M412.0 39.4v3.4M412.2 40.7v3.4M412.3 42.1v3.4M412.5 43.5v3.4M412.6 44.9v3.4M412.8 46.2v3.4M412.9 47.6v3.4M413.1 49.0v3.4M413.3 50.3v3.4M413.5 51.7v3.4M413.6 53.1v3.4M413.8 54.4v3.4M414.0 55.8v3.4M414.2 57.2v3.4M414.4 58.5v3.4M414.5 59.9v3.4M414.7 61.3v3.4M414.9 62.6v3.4M415.1 64.0v3.4M415.4 65.3v3.4M415.6 66.7v3.4M415.8 68.1v3.4M416.1 69.4v3.4M416.3 70.8v3.4M416.5 72.2v3.4M416.8 73.5v3.4M417.0 74.9v3.4M417.2 76.3v3.4M417.5 77.6v3.4M417.7 79.0v3.4M418.0 80.3v3.4M418.2 81.6v3.4M418.4 83.0v3.4M418.7 84.3v3.4M418.9 85.6v3.4M419.2 87.0v3.4M419.4 88.3v3.4M419.7 89.6v3.4M419.9 91.0v3.4M420.1 92.3v3.4M420.4 93.6v3.4M420.7 95.0v3.4M421.0 96.3v3.4M421.3 97.6v3.4M421.7 99.0v3.4M422.0 100.3v3.4M422.4 101.6v3.4M422.7 103.0v3.4M423.0 104.3v3.4M423.4 105.7v3.4M423.7 107.0v3.4M424.0 108.3v3.4M424.3 109.7v3.4M424.6 111.0v3.4M424.9 112.3v3.4M425.2 113.7v3.4M425.6 115.0v3.4M425.9 116.3v3.4M426.1 117.7v3.4M426.4 119.0v3.4M426.8 120.3v3.4M427.1 121.7v3.4M427.4 123.0v3.4M427.7 124.3v3.4M428.0 125.7v3.4M428.5 127.0v3.4M429.0 128.3v3.4M429.5 129.6v3.4M430.0 130.9v3.4M430.5 132.2v3.4M431.0 133.5v3.4M431.5 134.8v3.4M432.0 136.1v3.4M432.5 137.3v3.4M433.2 138.6v3.4M433.8 139.9v3.4M434.4 141.2v3.4M435.1 142.4v3.4M435.7 143.7v3.4M436.3 145.0v3.4M437.0 146.3v3.4M437.7 147.5v3.4M438.4 148.6v3.4M439.1 149.7v3.4M439.9 150.8v3.4M440.6 151.9v3.4M441.4 153.0v3.4M442.1 154.1v3.4M442.8 155.2v3.4M443.6 156.3v3.4M444.4 157.4v3.4M445.1 158.6v3.4M445.9 159.7v3.4M446.7 160.8v3.4M447.4 162.0v3.4M448.2 163.1v3.4M449.2 164.0v3.4M450.4 164.5v3.4M451.6 165.0v3.4M452.8 165.5v3.4M454.1 165.8v3.4M455.6 165.8v3.4M457.1 165.8v3.4M458.5 165.8v3.4M460.0 165.8v3.4M461.5 165.8v3.4M462.9 166.2v3.4M464.4 166.9v3.4M465.8 167.6v3.4M467.0 168.6v3.4M468.0 169.9v3.4M469.0 171.1v3.4M470.2 171.8v3.4M471.7 172.0v3.4M473.1 172.1v3.4M474.6 172.3v3.4M475.4 173.2v3.4M475.6 174.8v3.4M475.9 176.3v3.4M409.8 37.8h3.4M410.2 39.7h3.4M410.3 41.1h3.4M410.5 42.4h3.4M410.6 43.8h3.4M410.8 45.2h3.4M410.9 46.6h3.4M411.1 47.9h3.4M411.2 49.3h3.4M411.4 50.7h3.4M411.6 52.0h3.4M411.8 53.4h3.4M411.9 54.8h3.4M412.1 56.1h3.4M412.3 57.5h3.4M412.5 58.9h3.4M412.7 60.2h3.4M412.8 61.6h3.4M413.0 63.0h3.4M413.2 64.3h3.4M413.4 65.7h3.4M413.7 67.0h3.4M413.9 68.4h3.4M414.1 69.8h3.4M414.4 71.1h3.4M414.6 72.5h3.4M414.8 73.9h3.4M415.1 75.2h3.4M415.3 76.6h3.4M415.5 78.0h3.4M415.8 79.3h3.4M416.0 80.7h3.4M416.3 82.0h3.4M416.5 83.3h3.4M416.7 84.7h3.4M417.0 86.0h3.4M417.2 87.3h3.4M417.5 88.7h3.4M417.7 90.0h3.4M418.0 91.3h3.4M418.2 92.7h3.4M418.4 94.0h3.4M418.7 95.3h3.4M419.0 96.7h3.4M419.3 98.0h3.4M419.6 99.3h3.4M420.0 100.7h3.4M420.3 102.0h3.4M420.7 103.3h3.4M421.0 104.7h3.4M421.3 106.0h3.4M421.7 107.4h3.4M422.0 108.7h3.4M422.3 110.0h3.4M422.6 111.4h3.4M422.9 112.7h3.4M423.2 114.0h3.4M423.6 115.4h3.4M423.9 116.7h3.4M424.2 118.0h3.4M424.4 119.4h3.4M424.8 120.7h3.4M425.1 122.0h3.4M425.4 123.4h3.4M425.7 124.7h3.4M426.0 126.0h3.4M426.3 127.4h3.4M426.8 128.7h3.4M427.3 130.0h3.4M427.8 131.2h3.4M428.3 132.6h3.4M428.8 133.8h3.4M429.3 135.2h3.4M429.8 136.5h3.4M430.3 137.8h3.4M430.8 139.0h3.4M431.5 140.3h3.4M432.1 141.6h3.4M432.7 142.9h3.4M433.4 144.1h3.4M434.0 145.4h3.4M434.6 146.7h3.4M435.3 148.0h3.4M436.0 149.2h3.4M436.7 150.2h3.4M437.4 151.3h3.4M438.2 152.4h3.4M438.9 153.6h3.4M439.7 154.7h3.4M440.4 155.8h3.4M441.1 156.8h3.4M441.9 158.0h3.4M442.7 159.1h3.4M443.4 160.3h3.4M444.2 161.4h3.4M445.0 162.5h3.4M445.7 163.7h3.4M446.5 164.8h3.4M447.5 165.7h3.4M448.7 166.2h3.4M449.9 166.7h3.4M451.1 167.2h3.4M452.4 167.5h3.4M453.9 167.5h3.4M455.4 167.5h3.4M456.8 167.5h3.4M458.3 167.5h3.4M459.8 167.5h3.4M461.2 167.9h3.4M462.7 168.6h3.4M464.1 169.3h3.4M465.3 170.3h3.4M466.3 171.6h3.4M467.3 172.8h3.4M468.5 173.5h3.4M470.0 173.7h3.4M471.4 173.8h3.4M472.9 174.0h3.4M473.7 174.9h3.4M473.9 176.4h3.4M474.2 178.0h3.4" fill="none" stroke="#2db84a" stroke-width="1.15"/>
<path d="M431.0 112.1v3.6M481.5 154.0v3.6M413.6 48.0v3.6M414.6 48.0v3.6M539.5 154.0v3.6M429.2 113.9h3.6M479.7 155.8h3.6M411.8 49.8h3.6M412.8 49.8h3.6M537.7 155.8h3.6" fill="none" stroke="#1e90ff" stroke-width="1.15"/>
<path d="M412.2 31.2v3.6M414.8 38.6v3.6M432.0 88.5v3.6M434.0 88.5v3.6M445.0 110.0v3.6M488.5 146.7v3.6M494.0 146.7v3.6M534.0 169.8v3.6M571.2 169.8v3.6M617.9 169.8v3.6M410.4 33.0h3.6M413.0 40.4h3.6M430.2 90.3h3.6M432.2 90.3h3.6M443.2 111.8h3.6M486.7 148.5h3.6M492.2 148.5h3.6M532.2 171.6h3.6M569.4 171.6h3.6M616.1 171.6h3.6M415.5 41.9v2.8M415.5 47.0v2.8M415.5 52.1v2.8M417.0 57.4v2.8M417.0 63.0v2.8M417.0 68.6v2.8M419.0 75.8v2.8M423.2 84.5v2.8M414.1 43.2h2.8M414.1 48.4h2.8M414.1 53.5h2.8M415.6 58.8h2.8M415.6 64.4h2.8M415.6 70.0h2.8M417.6 77.2h2.8M421.8 85.9h2.8" fill="none" stroke="#3b55ad" stroke-width="1.15"/>
<path d="M473.3 228.5v3.6M504.7 228.5v3.6M451.0 218.3v3.6M537.3 228.5v3.6M471.5 230.3h3.6M502.9 230.3h3.6M449.2 220.1h3.6M535.5 230.3h3.6M409.4 34.0v3M409.6 39.8v3M409.9 45.6v3M410.1 51.0v3M410.4 56.0v3M410.6 61.0v3M410.9 66.0v3M411.2 71.0v3M411.6 76.0v3M411.9 81.2v3M412.1 86.7v3M412.2 92.2v3M412.4 97.7v3M412.6 102.8v3M412.7 107.7v3M412.8 112.6v3M412.9 117.4v3M413.0 122.3v3M413.1 127.2v3M413.4 132.0v3M413.8 136.7v3M414.1 141.4v3M414.5 146.1v3M415.1 150.9v3M415.8 155.8v3M416.5 160.7v3M417.3 165.5v3M418.0 170.4v3M418.7 175.3v3M419.7 180.6v3M420.8 186.5v3M421.4 192.5v3M421.6 198.7v3M426.0 206.2v3M428.9 209.9v3M407.9 35.5h3M408.1 41.3h3M408.4 47.1h3M408.6 52.5h3M408.9 57.5h3M409.1 62.5h3M409.4 67.5h3M409.7 72.5h3M410.1 77.5h3M410.4 82.7h3M410.6 88.2h3M410.7 93.7h3M410.9 99.2h3M411.1 104.3h3M411.2 109.2h3M411.3 114.1h3M411.4 118.9h3M411.5 123.8h3M411.6 128.7h3M411.9 133.5h3M412.3 138.2h3M412.6 142.9h3M413.0 147.6h3M413.6 152.4h3M414.3 157.3h3M415.0 162.2h3M415.8 167.0h3M416.5 171.9h3M417.2 176.8h3M418.2 182.1h3M419.2 188.0h3M419.9 194.0h3M420.1 200.2h3M424.5 207.7h3M427.4 211.4h3" fill="none" stroke="#a51820" stroke-width="1.15"/>
<path d="M450.0 170.4v3.6M454.0 170.4v3.6M457.0 170.4v3.6M460.0 170.4v3.6M474.0 170.4v3.6M409.5 31.2v3.6M410.0 35.2v3.6M514.7 221.6v3.6M448.2 172.2h3.6M452.2 172.2h3.6M455.2 172.2h3.6M458.2 172.2h3.6M472.2 172.2h3.6M407.7 33.0h3.6M408.2 37.0h3.6M512.9 223.4h3.6M409.4 32.1v3M409.6 34.2v3M409.8 36.3v3M410.0 38.3v3M410.2 40.4v3M410.4 42.5v3M410.6 44.4v3M410.8 46.3v3M411.0 48.2v3M411.2 50.1v3M411.3 51.9v3M411.5 53.8v3M411.7 55.7v3M411.9 57.6v3M412.1 59.4v3M412.3 61.3v3M412.5 63.2v3M412.7 65.1v3M412.8 66.9v3M413.0 68.8v3M413.2 70.7v3M413.4 72.6v3M413.7 74.4v3M414.0 76.2v3M414.3 78.0v3M414.6 79.8v3M414.9 81.6v3M415.2 83.4v3M415.5 85.2v3M415.8 87.1v3M416.1 89.0v3M416.4 91.0v3M416.8 92.8v3M417.0 94.8v3M417.3 96.6v3M417.6 98.5v3M417.9 100.4v3M418.2 102.3v3M418.6 104.2v3M419.0 106.0v3M419.4 107.8v3M419.8 109.6v3M420.2 111.3v3M420.6 113.1v3M421.0 114.9v3M421.4 116.7v3M421.8 118.5v3M422.3 120.3v3M422.9 122.2v3M423.6 124.1v3M424.2 126.0v3M424.8 127.8v3M425.5 129.7v3M426.1 131.6v3M426.8 133.4v3M427.5 135.1v3M428.2 136.9v3M428.9 138.7v3M429.6 140.4v3M430.7 142.0v3M432.2 143.5v3M433.7 144.9v3M435.2 146.4v3M436.4 148.1v3M437.4 150.1v3M438.3 152.0v3M439.6 153.5v3M441.4 154.4v3M443.0 155.4v3M444.0 156.8v3M444.2 158.6v3M444.3 160.4v3M444.5 162.2v3M444.8 164.0v3M445.2 165.9v3M445.5 167.8v3M445.9 169.8v3M407.9 33.6h3M408.1 35.7h3M408.3 37.8h3M408.5 39.8h3M408.7 41.9h3M408.9 44.0h3M409.1 45.9h3M409.3 47.8h3M409.5 49.7h3M409.7 51.6h3M409.8 53.4h3M410.0 55.3h3M410.2 57.2h3M410.4 59.1h3M410.6 60.9h3M410.8 62.8h3M411.0 64.7h3M411.2 66.6h3M411.3 68.4h3M411.5 70.3h3M411.7 72.2h3M411.9 74.1h3M412.2 75.9h3M412.5 77.7h3M412.8 79.5h3M413.1 81.3h3M413.4 83.1h3M413.7 84.9h3M414.0 86.8h3M414.3 88.6h3M414.6 90.5h3M414.9 92.5h3M415.2 94.3h3M415.5 96.2h3M415.8 98.1h3M416.1 100.0h3M416.4 101.9h3M416.8 103.8h3M417.1 105.7h3M417.5 107.5h3M417.9 109.3h3M418.3 111.1h3M418.7 112.8h3M419.1 114.6h3M419.5 116.4h3M419.9 118.2h3M420.3 120.0h3M420.8 121.8h3M421.4 123.7h3M422.1 125.6h3M422.7 127.5h3M423.3 129.3h3M424.0 131.2h3M424.6 133.1h3M425.3 134.9h3M426.0 136.6h3M426.7 138.4h3M427.4 140.2h3M428.1 141.9h3M429.2 143.5h3M430.7 145.0h3M432.2 146.4h3M433.7 147.9h3M434.9 149.6h3M435.9 151.6h3M436.8 153.5h3M438.1 155.0h3M439.9 155.9h3M441.5 156.9h3M442.5 158.3h3M442.7 160.1h3M442.8 161.9h3M443.0 163.7h3M443.3 165.5h3M443.7 167.4h3M444.0 169.3h3M444.4 171.2h3" fill="none" stroke="#ff9a1e" stroke-width="1.15"/>
<path d="M412.4 57.5v3.6M527.4 214.6v3.6M410.6 59.3h3.6M525.6 216.4h3.6" fill="none" stroke="#fff566" stroke-width="1.15"/>
</g>
<g id="legend-a">
<rect x="9.1" y="312.3" width="20" height="5.6" fill="#767171"/>
<text transform="translate(39.0 318.7) scale(0.958 1)" font-size="12.0" class="lg">No mutation, NK (n=155), Median LFS 218.6 months</text>
<rect x="9.6" y="340.3" width="20" height="5.6" fill="#00b050"/>
<text transform="translate(39.3 348.5) scale(0.958 1)" font-size="12.0" class="lg">Gene mutations, NK (n=299), Median LFS 28.7 months</text>
<rect x="9.6" y="369.3" width="20" height="5.6" fill="#00b0f0"/>
<text transform="translate(39.3 377.2) scale(0.958 1)" font-size="12.0" class="lg">No mutation, GK (n=13), Median LFS 85.3 months</text>
<rect x="9.6" y="398.8" width="20" height="5.6" fill="#2f5597"/>
<text transform="translate(39.3 407.1) scale(0.958 1)" font-size="12.0" class="lg">No mutation, IK (n=31), Median LFS 70.3 months</text>
<rect x="9.6" y="428.4" width="20" height="5.6" fill="#7030a0"/>
<text transform="translate(40.3 436.6) scale(0.958 1)" font-size="12.0" class="lg">No mutation, PK (n=18), Median LFS 19.1 months</text>
<rect x="9.8" y="457.3" width="20" height="5.6" fill="#ffe699"/>
<text transform="translate(38.6 464.8) scale(0.958 1)" font-size="12.0" class="lg">Gene mutations, GK (n=32), Median LFS 21.2 months</text>
<rect x="9.0" y="486.1" width="20" height="5.6" fill="#ff9900"/>
<text transform="translate(37.5 493.6) scale(0.958 1)" font-size="12.0" class="lg">Gene mutations, IK (n=97), Median LFS 16.8 months</text>
<rect x="8.2" y="515.1" width="20" height="5.6" fill="#c00000"/>
<text transform="translate(37.2 522.6) scale(0.958 1)" font-size="12.0" class="lg">Gene mutations, PK (n=112), Median LFS 6.1 months</text>
</g>
<g id="legend-b">
<rect x="351.6" y="316.1" width="20" height="5.6" fill="#767171"/>
<text transform="translate(381.5 321.8) scale(0.971 1)" font-size="12.0" class="lg">No mutation, NK (n=155), Median OS 250.7 months</text>
<rect x="352.1" y="343.7" width="20" height="5.6" fill="#00b050"/>
<text transform="translate(381.5 351.0) scale(0.971 1)" font-size="12.0" class="lg">Gene mutations, NK (n=299), Median OS 37.1 months</text>
<rect x="352.1" y="372.7" width="20" height="5.6" fill="#00b0f0"/>
<text transform="translate(381.5 380.7) scale(0.971 1)" font-size="12.0" class="lg">No mutation, GK (n=13), Median OS 85.3 months</text>
<rect x="352.1" y="402.4" width="20" height="5.6" fill="#2f5597"/>
<text transform="translate(381.5 410.1) scale(0.971 1)" font-size="12.0" class="lg">No mutation, IK (n=31), Median OS 77.3 months</text>
<rect x="352.1" y="431.6" width="20" height="5.6" fill="#7030a0"/>
<text transform="translate(381.3 438.3) scale(0.971 1)" font-size="12.0" class="lg">No mutation, PK (n=18), Median OS 26.7 months</text>
<rect x="352.0" y="460.3" width="20" height="5.6" fill="#ffe699"/>
<text transform="translate(380 467.8) scale(0.971 1)" font-size="12.0" class="lg">Gene mutations, GK (n=32), Median OS 27.9 months</text>
<rect x="351.5" y="489.0" width="20" height="5.6" fill="#ff9900"/>
<text transform="translate(380 497.3) scale(0.971 1)" font-size="12.0" class="lg">Gene mutations, IK (n=97), Median OS 33.0 months</text>
<rect x="351.0" y="517.7" width="20" height="5.6" fill="#c00000"/>
<text transform="translate(380 525.5) scale(0.971 1)" font-size="12.0" class="lg">Gene mutations, PK (n=112), Median OS 8.6 months</text>
</g>
<text x="0.3" y="554.0" class="sf">Abbreviation: GK, very good and good karyotype based on revised international prognostic scoring system cytogenetic category;</text>
<text x="0.3" y="577.1" class="sf">IK, intermediate karyotype based on revised international prognostic scoring system cytogenetic category; NK, normal karyotype;</text>
<text x="0.3" y="600.5" class="sf">PK, poor, or very poor karyotype based on revised international prognostic scoring system cytogenetic category</text>
</svg>
</body>
</html>
